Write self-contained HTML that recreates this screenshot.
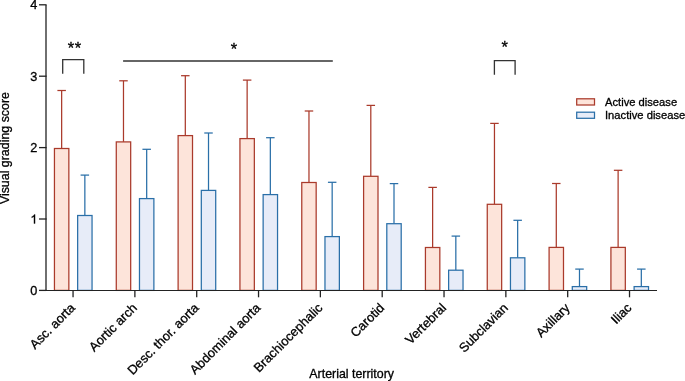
<!DOCTYPE html>
<html><head><meta charset="utf-8"><style>
html,body{margin:0;padding:0;background:#fff;width:685px;height:381px;overflow:hidden}
svg{display:block;font-family:"Liberation Sans",sans-serif;will-change:transform}
text{fill:#000;stroke:#000;stroke-width:0.3px}
</style></head><body>
<svg width="685" height="381" viewBox="0 0 685 381">
<rect width="685" height="381" fill="#fff"/>
<line x1="61.65" y1="148.50" x2="61.65" y2="90.50" stroke="#aa3a2b" stroke-width="1.25"/>
<line x1="57.40" y1="90.50" x2="65.90" y2="90.50" stroke="#aa3a2b" stroke-width="1.25"/>
<rect x="54.45" y="148.50" width="14.40" height="141.90" fill="#fde4da" stroke="#aa3a2b" stroke-width="1.25"/>
<line x1="84.85" y1="215.50" x2="84.85" y2="175.10" stroke="#2a6fa8" stroke-width="1.25"/>
<line x1="80.60" y1="175.10" x2="89.10" y2="175.10" stroke="#2a6fa8" stroke-width="1.25"/>
<rect x="77.65" y="215.50" width="14.40" height="74.90" fill="#e7ecf8" stroke="#2a6fa8" stroke-width="1.25"/>
<line x1="123.48" y1="141.90" x2="123.48" y2="80.80" stroke="#aa3a2b" stroke-width="1.25"/>
<line x1="119.23" y1="80.80" x2="127.73" y2="80.80" stroke="#aa3a2b" stroke-width="1.25"/>
<rect x="116.28" y="141.90" width="14.40" height="148.50" fill="#fde4da" stroke="#aa3a2b" stroke-width="1.25"/>
<line x1="146.68" y1="198.60" x2="146.68" y2="149.30" stroke="#2a6fa8" stroke-width="1.25"/>
<line x1="142.43" y1="149.30" x2="150.93" y2="149.30" stroke="#2a6fa8" stroke-width="1.25"/>
<rect x="139.48" y="198.60" width="14.40" height="91.80" fill="#e7ecf8" stroke="#2a6fa8" stroke-width="1.25"/>
<line x1="185.31" y1="135.60" x2="185.31" y2="75.70" stroke="#aa3a2b" stroke-width="1.25"/>
<line x1="181.06" y1="75.70" x2="189.56" y2="75.70" stroke="#aa3a2b" stroke-width="1.25"/>
<rect x="178.11" y="135.60" width="14.40" height="154.80" fill="#fde4da" stroke="#aa3a2b" stroke-width="1.25"/>
<line x1="208.51" y1="190.40" x2="208.51" y2="133.00" stroke="#2a6fa8" stroke-width="1.25"/>
<line x1="204.26" y1="133.00" x2="212.76" y2="133.00" stroke="#2a6fa8" stroke-width="1.25"/>
<rect x="201.31" y="190.40" width="14.40" height="100.00" fill="#e7ecf8" stroke="#2a6fa8" stroke-width="1.25"/>
<line x1="247.14" y1="138.60" x2="247.14" y2="80.10" stroke="#aa3a2b" stroke-width="1.25"/>
<line x1="242.89" y1="80.10" x2="251.39" y2="80.10" stroke="#aa3a2b" stroke-width="1.25"/>
<rect x="239.94" y="138.60" width="14.40" height="151.80" fill="#fde4da" stroke="#aa3a2b" stroke-width="1.25"/>
<line x1="270.34" y1="194.60" x2="270.34" y2="137.70" stroke="#2a6fa8" stroke-width="1.25"/>
<line x1="266.09" y1="137.70" x2="274.59" y2="137.70" stroke="#2a6fa8" stroke-width="1.25"/>
<rect x="263.14" y="194.60" width="14.40" height="95.80" fill="#e7ecf8" stroke="#2a6fa8" stroke-width="1.25"/>
<line x1="308.97" y1="182.50" x2="308.97" y2="111.00" stroke="#aa3a2b" stroke-width="1.25"/>
<line x1="304.72" y1="111.00" x2="313.22" y2="111.00" stroke="#aa3a2b" stroke-width="1.25"/>
<rect x="301.77" y="182.50" width="14.40" height="107.90" fill="#fde4da" stroke="#aa3a2b" stroke-width="1.25"/>
<line x1="332.17" y1="236.60" x2="332.17" y2="182.30" stroke="#2a6fa8" stroke-width="1.25"/>
<line x1="327.92" y1="182.30" x2="336.42" y2="182.30" stroke="#2a6fa8" stroke-width="1.25"/>
<rect x="324.97" y="236.60" width="14.40" height="53.80" fill="#e7ecf8" stroke="#2a6fa8" stroke-width="1.25"/>
<line x1="370.80" y1="176.30" x2="370.80" y2="105.40" stroke="#aa3a2b" stroke-width="1.25"/>
<line x1="366.55" y1="105.40" x2="375.05" y2="105.40" stroke="#aa3a2b" stroke-width="1.25"/>
<rect x="363.60" y="176.30" width="14.40" height="114.10" fill="#fde4da" stroke="#aa3a2b" stroke-width="1.25"/>
<line x1="394.00" y1="223.70" x2="394.00" y2="183.60" stroke="#2a6fa8" stroke-width="1.25"/>
<line x1="389.75" y1="183.60" x2="398.25" y2="183.60" stroke="#2a6fa8" stroke-width="1.25"/>
<rect x="386.80" y="223.70" width="14.40" height="66.70" fill="#e7ecf8" stroke="#2a6fa8" stroke-width="1.25"/>
<line x1="432.63" y1="247.50" x2="432.63" y2="187.40" stroke="#aa3a2b" stroke-width="1.25"/>
<line x1="428.38" y1="187.40" x2="436.88" y2="187.40" stroke="#aa3a2b" stroke-width="1.25"/>
<rect x="425.43" y="247.50" width="14.40" height="42.90" fill="#fde4da" stroke="#aa3a2b" stroke-width="1.25"/>
<line x1="455.83" y1="270.20" x2="455.83" y2="236.10" stroke="#2a6fa8" stroke-width="1.25"/>
<line x1="451.58" y1="236.10" x2="460.08" y2="236.10" stroke="#2a6fa8" stroke-width="1.25"/>
<rect x="448.63" y="270.20" width="14.40" height="20.20" fill="#e7ecf8" stroke="#2a6fa8" stroke-width="1.25"/>
<line x1="494.46" y1="204.30" x2="494.46" y2="123.40" stroke="#aa3a2b" stroke-width="1.25"/>
<line x1="490.21" y1="123.40" x2="498.71" y2="123.40" stroke="#aa3a2b" stroke-width="1.25"/>
<rect x="487.26" y="204.30" width="14.40" height="86.10" fill="#fde4da" stroke="#aa3a2b" stroke-width="1.25"/>
<line x1="517.66" y1="257.80" x2="517.66" y2="220.30" stroke="#2a6fa8" stroke-width="1.25"/>
<line x1="513.41" y1="220.30" x2="521.91" y2="220.30" stroke="#2a6fa8" stroke-width="1.25"/>
<rect x="510.46" y="257.80" width="14.40" height="32.60" fill="#e7ecf8" stroke="#2a6fa8" stroke-width="1.25"/>
<line x1="556.29" y1="247.40" x2="556.29" y2="183.50" stroke="#aa3a2b" stroke-width="1.25"/>
<line x1="552.04" y1="183.50" x2="560.54" y2="183.50" stroke="#aa3a2b" stroke-width="1.25"/>
<rect x="549.09" y="247.40" width="14.40" height="43.00" fill="#fde4da" stroke="#aa3a2b" stroke-width="1.25"/>
<line x1="579.49" y1="286.60" x2="579.49" y2="269.10" stroke="#2a6fa8" stroke-width="1.25"/>
<line x1="575.24" y1="269.10" x2="583.74" y2="269.10" stroke="#2a6fa8" stroke-width="1.25"/>
<rect x="572.29" y="286.60" width="14.40" height="3.80" fill="#e7ecf8" stroke="#2a6fa8" stroke-width="1.25"/>
<line x1="618.12" y1="247.40" x2="618.12" y2="170.30" stroke="#aa3a2b" stroke-width="1.25"/>
<line x1="613.87" y1="170.30" x2="622.37" y2="170.30" stroke="#aa3a2b" stroke-width="1.25"/>
<rect x="610.92" y="247.40" width="14.40" height="43.00" fill="#fde4da" stroke="#aa3a2b" stroke-width="1.25"/>
<line x1="641.32" y1="286.60" x2="641.32" y2="269.10" stroke="#2a6fa8" stroke-width="1.25"/>
<line x1="637.07" y1="269.10" x2="645.57" y2="269.10" stroke="#2a6fa8" stroke-width="1.25"/>
<rect x="634.12" y="286.60" width="14.40" height="3.80" fill="#e7ecf8" stroke="#2a6fa8" stroke-width="1.25"/>
<line x1="46" y1="4.9" x2="46" y2="290.4" stroke="#222" stroke-width="1.3"/>
<line x1="39" y1="290.5" x2="657" y2="290.5" stroke="#222" stroke-width="1.2"/>
<line x1="39" y1="290.40" x2="46.6" y2="290.40" stroke="#222" stroke-width="1.3"/>
<text x="37.4" y="294.95" text-anchor="end" font-size="12.7">0</text>
<line x1="39" y1="219.00" x2="46.6" y2="219.00" stroke="#222" stroke-width="1.3"/>
<path d="M35.07 223.55 L33.95 223.55 L33.95 216.44 Q33.55 216.82 32.89 217.21 Q32.24 217.59 31.72 217.78 L31.72 216.70 Q32.66 216.26 33.36 215.64 Q34.06 215.01 34.35 214.42 L35.07 214.42 Z" fill="#000" stroke="#000" stroke-width="0.3"/>
<line x1="39" y1="147.60" x2="46.6" y2="147.60" stroke="#222" stroke-width="1.3"/>
<text x="37.4" y="152.15" text-anchor="end" font-size="12.7">2</text>
<line x1="39" y1="76.20" x2="46.6" y2="76.20" stroke="#222" stroke-width="1.3"/>
<text x="37.4" y="80.75" text-anchor="end" font-size="12.7">3</text>
<line x1="39" y1="4.80" x2="46.6" y2="4.80" stroke="#222" stroke-width="1.3"/>
<text x="37.4" y="9.35" text-anchor="end" font-size="12.7">4</text>
<line x1="73.05" y1="290.4" x2="73.05" y2="297.3" stroke="#222" stroke-width="1.3"/>
<text x="75.95" y="308.60" text-anchor="end" font-size="12.9" transform="rotate(-45 75.95 308.60)">Asc. aorta</text>
<line x1="134.88" y1="290.4" x2="134.88" y2="297.3" stroke="#222" stroke-width="1.3"/>
<text x="137.78" y="308.60" text-anchor="end" font-size="12.9" transform="rotate(-45 137.78 308.60)">Aortic arch</text>
<line x1="196.71" y1="290.4" x2="196.71" y2="297.3" stroke="#222" stroke-width="1.3"/>
<text x="199.61" y="308.60" text-anchor="end" font-size="12.9" transform="rotate(-45 199.61 308.60)">Desc. thor. aorta</text>
<line x1="258.54" y1="290.4" x2="258.54" y2="297.3" stroke="#222" stroke-width="1.3"/>
<text x="261.44" y="308.60" text-anchor="end" font-size="12.9" transform="rotate(-45 261.44 308.60)">Abdominal aorta</text>
<line x1="320.37" y1="290.4" x2="320.37" y2="297.3" stroke="#222" stroke-width="1.3"/>
<text x="323.27" y="308.60" text-anchor="end" font-size="12.9" transform="rotate(-45 323.27 308.60)">Brachiocephalic</text>
<line x1="382.20" y1="290.4" x2="382.20" y2="297.3" stroke="#222" stroke-width="1.3"/>
<text x="385.10" y="308.60" text-anchor="end" font-size="12.9" transform="rotate(-45 385.10 308.60)">Carotid</text>
<line x1="444.03" y1="290.4" x2="444.03" y2="297.3" stroke="#222" stroke-width="1.3"/>
<text x="446.93" y="308.60" text-anchor="end" font-size="12.9" transform="rotate(-45 446.93 308.60)">Vertebral</text>
<line x1="505.86" y1="290.4" x2="505.86" y2="297.3" stroke="#222" stroke-width="1.3"/>
<text x="508.76" y="308.60" text-anchor="end" font-size="12.9" transform="rotate(-45 508.76 308.60)">Subclavian</text>
<line x1="567.69" y1="290.4" x2="567.69" y2="297.3" stroke="#222" stroke-width="1.3"/>
<text x="570.59" y="308.60" text-anchor="end" font-size="12.9" transform="rotate(-45 570.59 308.60)">Axillary</text>
<line x1="629.52" y1="290.4" x2="629.52" y2="297.3" stroke="#222" stroke-width="1.3"/>
<text x="632.42" y="308.60" text-anchor="end" font-size="12.9" transform="rotate(-45 632.42 308.60)">Iliac</text>
<text x="351.7" y="378" text-anchor="middle" font-size="12.4">Arterial territory</text>
<text x="0" y="0" text-anchor="middle" font-size="12.4" transform="translate(9.2 148.1) rotate(-90)">Visual grading score</text>
<path d="M62.7 73.7 V59.7 H83.8 V73.7" fill="none" stroke="#333" stroke-width="1.3"/>
<path d="M494.4 74.8 V60.6 H515.1 V74.8" fill="none" stroke="#333" stroke-width="1.3"/>
<line x1="123.1" y1="61" x2="332.8" y2="61" stroke="#333" stroke-width="1.3"/>
<text x="67.8" y="53.7" font-size="16.5" letter-spacing="0.65">**</text>
<text x="233.9" y="55.2" text-anchor="middle" font-size="16.5">*</text>
<text x="504.6" y="52.6" text-anchor="middle" font-size="16.5">*</text>
<rect x="576.7" y="98.8" width="17.8" height="6.2" fill="#fde4da" stroke="#aa3a2b" stroke-width="1.25"/>
<rect x="576.7" y="112.2" width="17.8" height="6.1" fill="#e7ecf8" stroke="#2a6fa8" stroke-width="1.25"/>
<text x="605" y="105.6" font-size="11.2">Active disease</text>
<text x="605" y="118.8" font-size="11.2">Inactive disease</text>
</svg>
</body></html>
